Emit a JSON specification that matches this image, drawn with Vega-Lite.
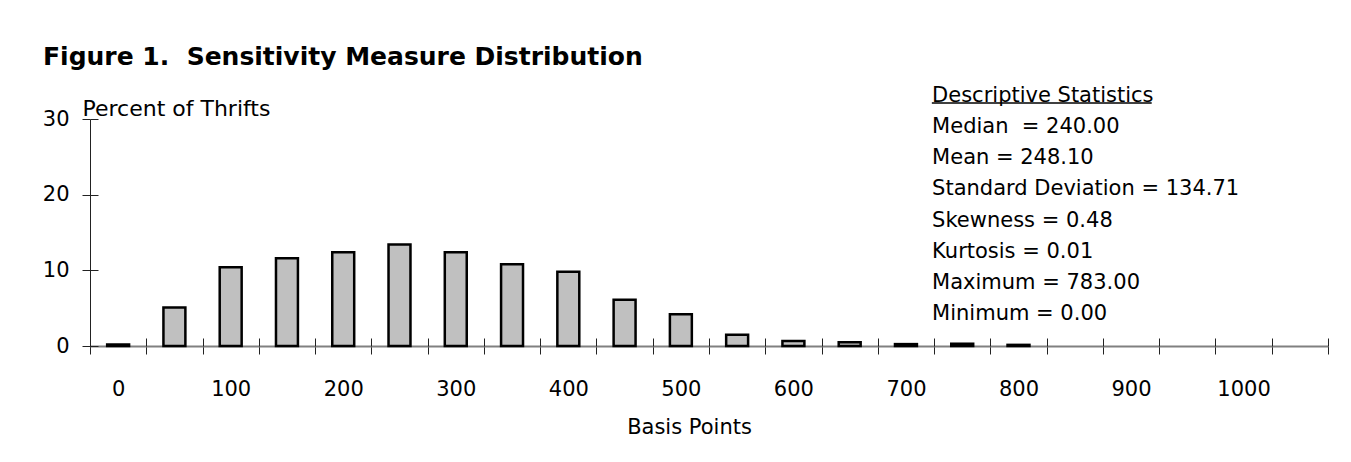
{
  "$schema": "https://vega.github.io/schema/vega-lite/v6.json",
  "width": 1238,
  "height": 227,
  "autosize": {"type": "none"},
  "padding": {"left": 90, "top": 119, "right": 23, "bottom": 116},
  "background": "white",
  "config": {"view": {"stroke": null}, "font": "DejaVu Sans"},
  "title": {
    "text": "Figure 1.\u00a0 Sensitivity Measure Distribution",
    "anchor": "start",
    "frame": "group",
    "dx": -47,
    "dy": 25,
    "font": "DejaVu Sans",
    "fontSize": 25,
    "fontWeight": "bold",
    "color": "black",
    "baseline": "alphabetic",
    "offset": 20
  },
  "datasets": {
    "hist": [
      {"bp": 0, "pct": 0.2},
      {"bp": 50, "pct": 5.1},
      {"bp": 100, "pct": 10.4},
      {"bp": 150, "pct": 11.6},
      {"bp": 200, "pct": 12.4},
      {"bp": 250, "pct": 13.4},
      {"bp": 300, "pct": 12.4},
      {"bp": 350, "pct": 10.8},
      {"bp": 400, "pct": 9.8},
      {"bp": 450, "pct": 6.1},
      {"bp": 500, "pct": 4.2},
      {"bp": 550, "pct": 1.5},
      {"bp": 600, "pct": 0.65},
      {"bp": 650, "pct": 0.5},
      {"bp": 700, "pct": 0.25},
      {"bp": 750, "pct": 0.3},
      {"bp": 800, "pct": 0.15}
    ],
    "stats": [
      {"text": "Descriptive Statistics\nMedian\u00a0 = 240.00\nMean = 248.10\nStandard Deviation = 134.71\nSkewness = 0.48\nKurtosis = 0.01\nMaximum = 783.00\nMinimum = 0.00"}
    ]
  },
  "layer": [
    {
      "data": {"name": "hist"},
      "mark": {"type": "bar", "fill": "#c0c0c0", "stroke": "black", "strokeWidth": 2.5, "width": {"band": 0.39}},
      "encoding": {
        "x": {
          "field": "bp",
          "type": "ordinal",
          "scale": {
            "domain": [0, 50, 100, 150, 200, 250, 300, 350, 400, 450, 500, 550, 600, 650, 700, 750, 800, 850, 900, 950, 1000, 1050],
            "paddingInner": 0,
            "paddingOuter": 0
          },
          "axis": {
            "orient": "bottom",
            "title": "Basis Points",
            "titleFont": "DejaVu Sans",
            "titleFontSize": 21,
            "titleFontWeight": "normal",
            "titleColor": "black",
            "titleX": 599,
            "titleY": 87,
            "titleAlign": "center",
            "titleBaseline": "alphabetic",
            "labelAngle": 0,
            "labelExpr": "datum.value % 100 == 0 ? datum.label : ''",
            "labelFont": "DejaVu Sans",
            "labelFontSize": 21,
            "labelColor": "black",
            "labelPadding": 24,
            "labelBaseline": "top",
            "tickBand": "extent",
            "tickSize": 8,
            "tickColor": "#222222",
            "tickWidth": 1,
            "domainColor": "#808080",
            "domainWidth": 2,
            "grid": false
          }
        },
        "y": {
          "field": "pct",
          "type": "quantitative",
          "scale": {"domain": [0, 30], "nice": false},
          "axis": {
            "orient": "left",
            "values": [0, 10, 20, 30],
            "title": "Percent of Thrifts",
            "titleFont": "DejaVu Sans",
            "titleFontSize": 22,
            "titleFontWeight": "normal",
            "titleColor": "black",
            "titleAngle": 0,
            "titleAlign": "left",
            "titleBaseline": "alphabetic",
            "titleX": -8,
            "titleY": -4,
            "labelFont": "DejaVu Sans",
            "labelFontSize": 21,
            "labelColor": "black",
            "labelPadding": 13,
            "tickSize": 8,
            "tickColor": "#222222",
            "domainColor": "#222222",
            "domainWidth": 1,
            "grid": false
          }
        }
      }
    },
    {
      "data": {"name": "hist"},
      "mark": {"type": "bar", "opacity": 0, "width": {"band": 0.39}},
      "encoding": {
        "x": {
          "field": "bp",
          "type": "ordinal",
          "axis": {
            "orient": "bottom",
            "title": null,
            "labels": false,
            "domain": false,
            "tickBand": "extent",
            "tickSize": -8,
            "tickColor": "#222222",
            "grid": false
          }
        },
        "y": {
          "field": "pct",
          "type": "quantitative",
          "axis": {
            "orient": "left",
            "values": [0, 10, 20, 30],
            "title": null,
            "labels": false,
            "domain": false,
            "tickSize": -8,
            "tickColor": "#222222",
            "grid": false
          }
        }
      }
    },
    {
      "data": {"name": "stats"},
      "mark": {
        "type": "text",
        "align": "left",
        "baseline": "alphabetic",
        "lineBreak": "\n",
        "lineHeight": 31.2,
        "font": "DejaVu Sans",
        "fontSize": 21,
        "color": "black",
        "dx": -2
      },
      "encoding": {
        "x": {"datum": 750, "type": "ordinal", "bandPosition": 0, "axis": null},
        "y": {"datum": 32.27, "type": "quantitative", "axis": null},
        "text": {"field": "text"}
      }
    },
    {
      "data": {"values": [{}]},
      "mark": {"type": "rule", "stroke": "black", "strokeWidth": 1.5},
      "encoding": {
        "x": {"datum": 750, "type": "ordinal", "bandPosition": -0.04, "axis": null},
        "x2": {"datum": 900, "bandPosition": 0.867},
        "y": {"datum": 32.1, "type": "quantitative", "axis": null}
      }
    }
  ],
  "resolve": {"axis": {"x": "independent", "y": "independent"}}
}
